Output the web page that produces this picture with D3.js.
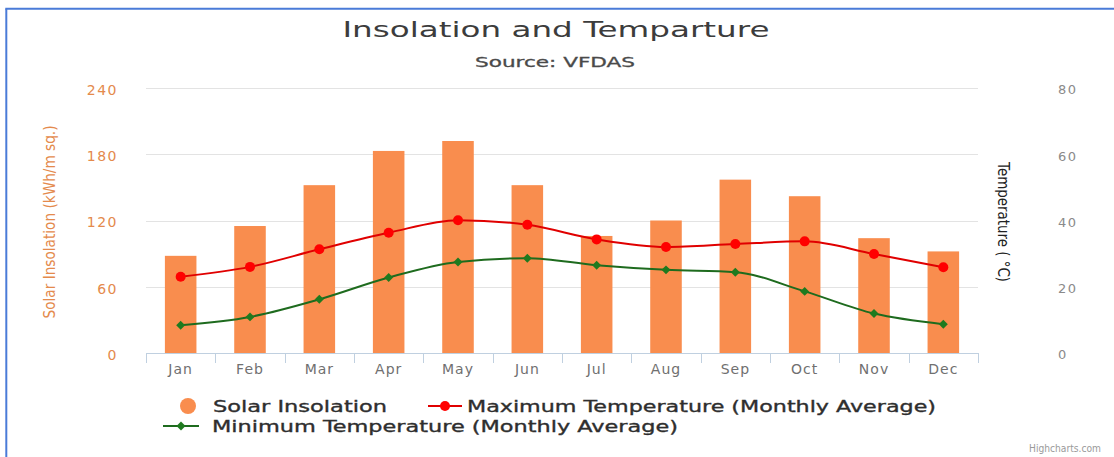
<!DOCTYPE html>
<html>
<head>
<meta charset="utf-8">
<script src="https://cdn.jsdelivr.net/npm/d3@7/dist/d3.min.js"></script>
<style>
  body { margin: 0; background: #fff; }
  svg { display: block; }
  text { font-family: "DejaVu Sans", Verdana, sans-serif; }
</style>
</head>
<body>
<svg id="chart" width="1114" height="457"></svg>
<script>
// Monthly categories
const months = ["Jan", "Feb", "Mar", "Apr", "May", "Jun", "Jul", "Aug", "Sep", "Oct", "Nov", "Dec"];
// Solar insolation, kWh/m sq.
const insolation = [88, 115, 152, 183, 192, 152, 106, 120, 157, 142, 104, 92];
// Monthly average temperatures, °C
const maxTemp = [23.0, 26.0, 31.3, 36.3, 40.1, 38.7, 34.3, 32.0, 32.9, 33.7, 29.9, 25.9];
const minTemp = [8.4, 10.9, 16.2, 22.8, 27.5, 28.6, 26.5, 25.1, 24.4, 18.6, 11.9, 8.7];
// Axis ticks
const insolationTicks = [0, 60, 120, 180, 240];
const tempTicks = [0, 20, 40, 60, 80];

const svg = d3.select("#chart");
const plot = { left: 146, right: 978, top: 88, bottom: 353 };

const colors = {
  bar: "#F98D4E",
  max: "#E00000",
  maxMarker: "#FF0000",
  min: "#1E6B1E",
  minMarker: "#1F7A1F",
  leftAxis: "#E48A4C",
  rightAxis: "#8A8A8A",
  grid: "#E3E3E3",
  axisLine: "#C0D0E0",
  legendText: "#2E2E2E"
};

// frame
svg.append("line").attr("x1", 6.3).attr("y1", 8.7).attr("x2", 6.3).attr("y2", 457)
  .attr("stroke", "#4A7BD8").attr("stroke-width", 2);
svg.append("line").attr("x1", 5.3).attr("y1", 8.7).attr("x2", 1114).attr("y2", 8.7)
  .attr("stroke", "#4A7BD8").attr("stroke-width", 2);

// scales
const x = d3.scaleBand().domain(months).range([plot.left, plot.right]).padding(0);
const yL = d3.scaleLinear().domain([0, 240]).range([plot.bottom, plot.top]);
const yR = d3.scaleLinear().domain([0, 80]).range([plot.bottom, plot.top]);
const cx = m => x(m) + x.bandwidth() / 2;

// gridlines
svg.append("g").selectAll("line")
  .data(insolationTicks.filter(t => t > 0))
  .join("line")
  .attr("x1", plot.left).attr("x2", plot.right)
  .attr("y1", d => Math.round(yL(d)) + 0.5).attr("y2", d => Math.round(yL(d)) + 0.5)
  .attr("stroke", colors.grid).attr("stroke-width", 1);

// bars
const barW = x.bandwidth() * 0.455;
svg.append("g").selectAll("rect")
  .data(insolation)
  .join("rect")
  .attr("x", (d, i) => cx(months[i]) - barW / 2)
  .attr("y", d => yL(d))
  .attr("width", barW)
  .attr("height", d => yL(0) - yL(d))
  .attr("fill", colors.bar);

// x axis
const xAxis = svg.append("g").attr("transform", `translate(0,${plot.bottom})`)
  .call(d3.axisBottom(x).tickSize(0).tickPadding(11));
xAxis.select(".domain").remove();
xAxis.selectAll("text")
  .attr("font-size", 14).attr("fill", "#707070").attr("letter-spacing", 1)
  .attr("font-family", "\"DejaVu Sans\", Verdana, sans-serif");
svg.append("line").attr("x1", plot.left).attr("x2", plot.right)
  .attr("y1", plot.bottom + 0.5).attr("y2", plot.bottom + 0.5)
  .attr("stroke", colors.axisLine).attr("stroke-width", 1);
svg.append("g").selectAll("line")
  .data(months.map(m => x(m)).concat([plot.right]))
  .join("line")
  .attr("x1", d => Math.round(d) + 0.5).attr("x2", d => Math.round(d) + 0.5)
  .attr("y1", plot.bottom).attr("y2", plot.bottom + 10)
  .attr("stroke", colors.axisLine).attr("stroke-width", 1);

// left axis
const leftAxis = svg.append("g").attr("transform", `translate(${plot.left},0)`)
  .call(d3.axisLeft(yL).tickValues(insolationTicks).tickSize(0).tickPadding(28));
leftAxis.select(".domain").remove();
leftAxis.selectAll("text")
  .attr("font-size", 14).attr("fill", colors.leftAxis).attr("letter-spacing", 1.5)
  .attr("dy", "0.45em")
  .attr("font-family", "\"DejaVu Sans\", Verdana, sans-serif");

// right axis
const rightAxis = svg.append("g").attr("transform", `translate(${plot.right},0)`)
  .call(d3.axisRight(yR).tickValues(tempTicks).tickSize(0).tickPadding(80));
rightAxis.select(".domain").remove();
rightAxis.selectAll("text")
  .attr("font-size", 13).attr("fill", colors.rightAxis).attr("letter-spacing", 1.5)
  .attr("dy", "0.45em")
  .attr("font-family", "\"DejaVu Sans\", Verdana, sans-serif");

// axis titles
svg.append("text")
  .attr("transform", "translate(55,222) rotate(-90)")
  .attr("text-anchor", "middle")
  .attr("font-size", 15)
  .attr("fill", colors.leftAxis)
  .attr("textLength", 193).attr("lengthAdjust", "spacingAndGlyphs")
  .text("Solar Insolation (kWh/m sq.)");
svg.append("text")
  .attr("transform", "translate(998,222) rotate(90)")
  .attr("text-anchor", "middle")
  .attr("font-size", 15)
  .attr("fill", "#222")
  .attr("textLength", 120).attr("lengthAdjust", "spacingAndGlyphs")
  .text("Temperature ( °C)");

// temperature lines
const lineGen = vals => d3.line()
  .x((d, i) => cx(months[i]))
  .y(d => yR(d))
  .curve(d3.curveMonotoneX)(vals);

svg.append("path").attr("d", lineGen(maxTemp))
  .attr("fill", "none").attr("stroke", colors.max).attr("stroke-width", 2);
svg.append("path").attr("d", lineGen(minTemp))
  .attr("fill", "none").attr("stroke", colors.min).attr("stroke-width", 2);

svg.append("g").selectAll("circle")
  .data(maxTemp)
  .join("circle")
  .attr("cx", (d, i) => cx(months[i]))
  .attr("cy", d => yR(d))
  .attr("r", 5)
  .attr("fill", colors.maxMarker);

const diamond = d3.symbol(d3.symbolSquare, 40);
svg.append("g").selectAll("path")
  .data(minTemp)
  .join("path")
  .attr("d", diamond)
  .attr("transform", (d, i) => `translate(${cx(months[i])},${yR(d)}) rotate(45)`)
  .attr("fill", colors.minMarker);

// title and subtitle
svg.append("text")
  .attr("x", 556).attr("y", 37)
  .attr("text-anchor", "middle")
  .attr("font-size", 22)
  .attr("fill", "#3C3C3C")
  .attr("textLength", 427).attr("lengthAdjust", "spacingAndGlyphs")
  .text("Insolation and Temparture");
svg.append("text")
  .attr("x", 555).attr("y", 67)
  .attr("text-anchor", "middle")
  .attr("font-size", 14)
  .attr("fill", "#4A4A4A")
  .attr("stroke", "#4A4A4A").attr("stroke-width", 0.3)
  .attr("textLength", 160).attr("lengthAdjust", "spacingAndGlyphs")
  .text("Source: VFDAS");

// legend
const legend = svg.append("g");
const legendLabel = (lx, ly, len, label) => legend.append("text")
  .attr("x", lx).attr("y", ly)
  .attr("font-size", 16)
  .attr("fill", colors.legendText)
  .attr("stroke", colors.legendText).attr("stroke-width", 0.35)
  .attr("textLength", len).attr("lengthAdjust", "spacingAndGlyphs")
  .text(label);

legend.append("circle").attr("cx", 188).attr("cy", 406).attr("r", 8).attr("fill", colors.bar);
legendLabel(213, 411.5, 174, "Solar Insolation");

legend.append("line").attr("x1", 428).attr("x2", 462).attr("y1", 406).attr("y2", 406)
  .attr("stroke", colors.max).attr("stroke-width", 2);
legend.append("circle").attr("cx", 445).attr("cy", 406).attr("r", 5).attr("fill", colors.maxMarker);
legendLabel(467, 411.5, 469, "Maximum Temperature (Monthly Average)");

legend.append("line").attr("x1", 163).attr("x2", 199).attr("y1", 426).attr("y2", 426)
  .attr("stroke", colors.min).attr("stroke-width", 2);
legend.append("path").attr("d", diamond)
  .attr("transform", "translate(181,426) rotate(45)").attr("fill", colors.minMarker);
legendLabel(212, 431.5, 466, "Minimum Temperature (Monthly Average)");

// credits
svg.append("text")
  .attr("x", 1101).attr("y", 452)
  .attr("text-anchor", "end")
  .attr("font-size", 10)
  .attr("fill", "#9A9A9A")
  .attr("textLength", 72).attr("lengthAdjust", "spacingAndGlyphs")
  .text("Highcharts.com");
</script>
</body>
</html>
